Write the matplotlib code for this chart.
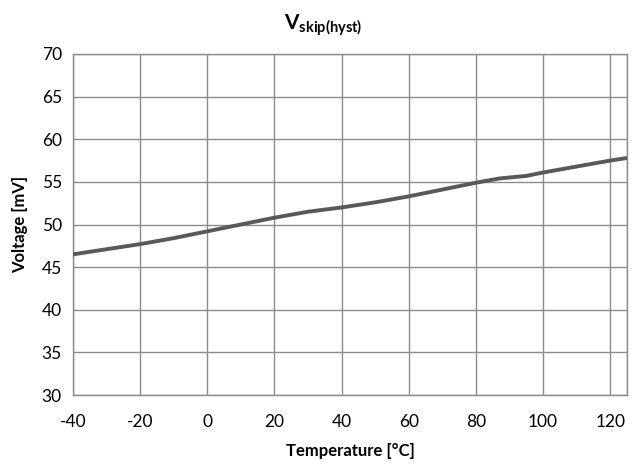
import matplotlib
matplotlib.use("Agg")
import matplotlib.pyplot as plt

# temperature [°C] and voltage [mV]
temperature = [-40, -30, -20, -10, 0, 10, 20, 30, 40, 50, 60, 70, 80, 87, 95, 100, 110, 120, 125]
voltage = [46.5, 47.1, 47.7, 48.4, 49.2, 50.0, 50.8, 51.5, 52.0, 52.6, 53.3, 54.1, 54.9, 55.4, 55.7, 56.1, 56.8, 57.5, 57.8]

x_ticks = [-40, -20, 0, 20, 40, 60, 80, 100, 120]
y_ticks = [30, 35, 40, 45, 50, 55, 60, 65, 70]

plt.rcParams['font.family'] = ['Lato', 'DejaVu Sans']
plt.rcParams['axes.unicode_minus'] = False
plt.rcParams['mathtext.fontset'] = 'custom'
plt.rcParams['mathtext.bf'] = 'Lato:bold'
plt.rcParams['mathtext.rm'] = 'Lato'

fig = plt.figure(figsize=(6.38, 4.65), dpi=100)
ax = fig.add_axes([0.1144, 0.1505, 0.8684, 0.7334])

ax.plot(temperature, voltage, color='#595959', linewidth=2.8, solid_capstyle='butt', zorder=3)

ax.set_xlim(-40, 125)
ax.set_ylim(30, 70)
ax.set_xticks(x_ticks)
ax.set_yticks(y_ticks)
ax.grid(True, color='#8c8c8c', linewidth=1.0)
ax.axvline(125, color='#8c8c8c', linewidth=1.0)
for s in ax.spines.values():
    s.set_color('#8c8c8c')
    s.set_linewidth(1.0)
ax.tick_params(axis='both', length=0, labelsize=12.5, colors='#000000')
ax.tick_params(axis='x', pad=14)
ax.tick_params(axis='y', pad=8)

ax.set_xlabel('Temperature [°C]', fontsize=12, fontweight='bold', labelpad=9)
ax.set_ylabel('Voltage [mV]', fontsize=12, fontweight='bold', labelpad=10)

fig.text(0.507, 0.945, r'$\mathbf{V}_{\mathbf{skip(hyst)}}$', fontsize=15, ha='center', va='center')

fig.savefig('out.png', dpi=100)
